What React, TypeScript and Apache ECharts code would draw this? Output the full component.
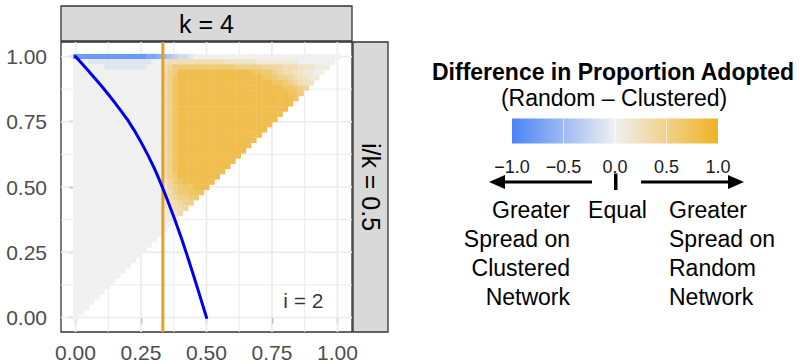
import React, { useEffect, useRef } from 'react';
import * as echarts from 'echarts';

const FONT = '"Liberation Sans", Arial, Helvetica, sans-serif';

// ---- Panel scales (ggplot-style 5% expansion around tiles) ----
const X_MIN = -0.0555;
const X_MAX = 1.0555;
const Y_MIN = -0.0555;
const Y_MAX = 1.0555;
const AXIS_TICKS = [0, 0.25, 0.5, 0.75, 1];
const MINOR_GRID = [0.125, 0.375, 0.625, 0.875];

// ---- Heatmap (difference Random - Clustered), cell size 0.02 ----
// Each row lists in-domain cells from x = 0 upwards; run-length tokens "<level><count>".
// Level chars: '0'..'9' => 0..0.9 (orange side), 'a'..'i' => -0.1..-0.9 (blue side)
const CELL = 0.02;
const HEAT_ROWS: string[] = [
  'h14 g2 f e d c b2 a 028', // y = 1.00
  '03 a12 02 2 311 26 18 07', // 0.98
  '06 a8 03 3 4 612 55 44 33 23 13', // 0.96
  '017 3 5 6 814 72 62 5 4 3 3 2 2 1 1 0 0', // 0.94
  '017 3 5 7 816 72 6 5 5 4 3 2 2 1 1', // 0.92
  '017 3 5 7 818 72 6 5 4 3 2 2', // 0.90
  '017 3 5 7 820 72 6 5 4', // 0.88
  '017 3 5 7 821 72 6', // 0.86
  '017 3 5 7 822 7', // 0.84
  '017 3 5 7 822', // 0.82
  '017 3 5 7 821', // 0.80
  '017 3 5 7 820', // 0.78
  '017 3 5 7 819', // 0.76
  '017 3 5 7 818', // 0.74
  '017 3 5 7 817', // 0.72
  '017 3 5 7 816', // 0.70
  '017 3 5 7 815', // 0.68
  '017 3 5 7 814', // 0.66
  '017 3 5 7 813', // 0.64
  '017 3 5 7 812', // 0.62
  '017 3 5 7 811', // 0.60
  '017 3 5 7 810', // 0.58
  '017 3 5 7 89', // 0.56
  '017 3 5 6 88', // 0.54
  '017 2 4 6 7 86', // 0.52
  '017 2 4 5 6 72 83', // 0.50
  '017 2 3 5 62 73', // 0.48
  '017 2 3 4 52 62', // 0.46
  '017 1 2 3 4 52', // 0.44
  '017 1 2 32 4', // 0.42
  '017 12 2 3', // 0.40
  '018 12', // 0.38
  '019', // 0.36
  '018', // 0.34
  '017', // 0.32
  '016', // 0.30
  '015', // 0.28
  '014', // 0.26
  '013', // 0.24
  '012', // 0.22
  '011', // 0.20
  '010', // 0.18
  '09', // 0.16
  '08', // 0.14
  '07', // 0.12
  '06', // 0.10
  '05', // 0.08
  '04', // 0.06
  '03', // 0.04
  '02', // 0.02
  '01', // 0.00
];

// ---- Threshold curve (blue) and vertical reference line (orange) ----
const CURVE_X = [0, 0.05, 0.1, 0.15, 0.2, 0.25, 0.3, 0.35, 0.4, 0.45, 0.5];
const CURVE_Y = [1, 0.944, 0.886, 0.823, 0.755, 0.672, 0.573, 0.452, 0.316, 0.163, 0];
const VLINE_X = 1 / 3;

// ---- Annotation ----
const ANNOT_TEXT = 'i = 2';
const ANNOT_POS = [0.87, 0.067];

// ---- Facet strips ----
const TOP_STRIP = 'k = 4';
const RIGHT_STRIP = 'i/k = 0.5';

// ---- Legend ----
const LEGEND_TITLE = 'Difference in Proportion Adopted';
const LEGEND_SUB = '(Random \u2013 Clustered)';
const LEGEND_TICKS = [-1, -0.5, 0, 0.5, 1];
const COLOR_STOPS = ['#4a84f6', '#f0f0f0', '#f0b225'];
const LEFT_LINES = ['Greater', 'Spread on', 'Clustered', 'Network'];
const MID_TEXT = 'Equal';
const RIGHT_LINES = ['Greater', 'Spread on', 'Random', 'Network'];

function levelValue(c: string): number {
  const code = c.charCodeAt(0);
  if (code >= 48 && code <= 57) return (code - 48) / 10;
  return -(code - 96) / 10;
}

function decodeRow(s: string): string[] {
  const out: string[] = [];
  s.split(' ').forEach((tok) => {
    const c = tok[0];
    const n = tok.length > 1 ? parseInt(tok.slice(1), 10) : 1;
    for (let k = 0; k < n; k++) out.push(c);
  });
  return out;
}

function buildHeat(): number[][] {
  const data: number[][] = [];
  const nRows = HEAT_ROWS.length;
  HEAT_ROWS.forEach((row, r) => {
    const y = Math.round((nRows - 1 - r) * CELL * 1000) / 1000;
    decodeRow(row).forEach((c, i) => {
      if (c === '.') return;
      const x = Math.round(i * CELL * 1000) / 1000;
      data.push([x, y, levelValue(c)]);
    });
  });
  return data;
}

export default function App() {
  const ref = useRef<HTMLDivElement>(null);

  useEffect(() => {
    if (!ref.current) return;
    const chart = echarts.init(ref.current, undefined, { renderer: 'svg' });

    const gridData = [
      ...AXIS_TICKS.map((v) => [v, 0.5, 1]),
      ...MINOR_GRID.map((v) => [v, 0.5, 0]),
    ];

    const txt = (text: string, x: number, y: number, font: string, align = 'center', extra: any = {}) => ({
      type: 'text', x, y, ...extra,
      style: {
        text, font, fill: '#000000', align, verticalAlign: 'middle',
        textAlign: align, textVerticalAlign: 'middle',
      },
    });

    const option: any = {
      animation: false,
      backgroundColor: '#ffffff',
      textStyle: { fontFamily: FONT },
      grid: [
        {
          left: 61, top: 42, width: 291, height: 290,
          show: true, borderColor: '#333333', borderWidth: 1.3, backgroundColor: '#ffffff',
        },
        { left: 512, top: 118.5, width: 206, height: 25, show: false },
      ],
      xAxis: [
        {
          type: 'value', gridIndex: 0, min: X_MIN, max: X_MAX,
          axisLine: { show: false },
          axisTick: { show: true, customValues: AXIS_TICKS, length: 6, lineStyle: { color: '#333333', width: 1.3 } },
          axisLabel: {
            show: true, customValues: AXIS_TICKS, formatter: (v: number) => v.toFixed(2),
            fontSize: 21, color: '#4d4d4d', margin: 10, fontFamily: FONT,
          },
          splitLine: { show: false },
        },
        {
          type: 'value', gridIndex: 1, min: -1, max: 1, interval: 0.5,
          axisLine: { show: false }, axisTick: { show: false }, splitLine: { show: false },
          axisLabel: {
            show: true, fontSize: 18, color: '#1a1a1a', margin: 14, fontFamily: FONT,
            showMinLabel: true, showMaxLabel: true,
            formatter: (v: number) => (v < 0 ? '\u2212' : '') + Math.abs(v).toFixed(1),
          },
        },
      ],
      yAxis: [
        {
          type: 'value', gridIndex: 0, min: Y_MIN, max: Y_MAX,
          axisLine: { show: false },
          axisTick: { show: true, customValues: AXIS_TICKS, length: 6, lineStyle: { color: '#333333', width: 1.3 } },
          axisLabel: {
            show: true, customValues: AXIS_TICKS, formatter: (v: number) => v.toFixed(2),
            fontSize: 21, color: '#4d4d4d', margin: 14, fontFamily: FONT,
          },
          splitLine: { show: false },
        },
        { type: 'value', gridIndex: 1, min: 0, max: 1, show: false },
      ],
      visualMap: {
        type: 'continuous', show: false, min: -1, max: 1, dimension: 2, seriesIndex: 1,
        inRange: { color: COLOR_STOPS },
      },
      series: [
        {
          type: 'custom', xAxisIndex: 0, yAxisIndex: 0, z: 1, silent: true,
          data: gridData,
          encode: { x: 0, y: 1 },
          renderItem: (_p: any, api: any) => {
            const v = api.value(0);
            const major = api.value(2) === 1;
            const a = api.coord([v, Y_MIN]);
            const b = api.coord([v, Y_MAX]);
            const c = api.coord([X_MIN, v]);
            const d = api.coord([X_MAX, v]);
            const st = { stroke: '#ebebeb', lineWidth: major ? 1.6 : 1.0 };
            return {
              type: 'group',
              children: [
                { type: 'line', shape: { x1: a[0], y1: a[1], x2: b[0], y2: b[1] }, style: st },
                { type: 'line', shape: { x1: c[0], y1: c[1], x2: d[0], y2: d[1] }, style: st },
              ],
            };
          },
        },
        {
          type: 'custom', xAxisIndex: 0, yAxisIndex: 0, z: 2, silent: true,
          data: buildHeat(),
          encode: { x: 0, y: 1 },
          renderItem: (_p: any, api: any) => {
            const x = api.value(0);
            const y = api.value(1);
            const p0 = api.coord([x - CELL / 2, y + CELL / 2]);
            const p1 = api.coord([x + CELL / 2, y - CELL / 2]);
            return {
              type: 'rect',
              shape: { x: p0[0], y: p0[1], width: p1[0] - p0[0] + 0.4, height: p1[1] - p0[1] + 0.4 },
              style: { fill: api.visual('color') },
            };
          },
        },
        {
          type: 'line', xAxisIndex: 0, yAxisIndex: 0, z: 3, silent: true,
          data: [[VLINE_X, Y_MIN], [VLINE_X, Y_MAX]],
          symbol: 'none',
          lineStyle: { color: '#e8a020', width: 3 },
        },
        {
          type: 'line', xAxisIndex: 0, yAxisIndex: 0, z: 4, silent: true,
          data: CURVE_X.map((x, i) => [x, CURVE_Y[i]]),
          symbol: 'none', smooth: 0.3,
          lineStyle: { color: '#0000ee', width: 3, cap: 'round' },
        },
        {
          type: 'scatter', xAxisIndex: 0, yAxisIndex: 0, z: 5, silent: true,
          data: [ANNOT_POS],
          symbolSize: 1,
          itemStyle: { color: 'rgba(0,0,0,0)' },
          label: {
            show: true, position: 'inside', formatter: ANNOT_TEXT,
            fontSize: 21, color: '#000000', fontFamily: FONT,
          },
        },
        {
          type: 'custom', xAxisIndex: 1, yAxisIndex: 1, z: 2, silent: true,
          data: [[-1, 0]],
          renderItem: (_p: any, api: any) => {
            const p0 = api.coord([-1, 1]);
            const p1 = api.coord([1, 0]);
            const children: any[] = [
              {
                type: 'rect',
                shape: { x: p0[0], y: p0[1], width: p1[0] - p0[0], height: p1[1] - p0[1] },
                style: {
                  fill: new echarts.graphic.LinearGradient(0, 0, 1, 0,
                    COLOR_STOPS.map((c, i) => ({ offset: i / (COLOR_STOPS.length - 1), color: c }))),
                },
              },
            ];
            LEGEND_TICKS.slice(1, -1).forEach((t) => {
              const a = api.coord([t, 1]);
              const b = api.coord([t, 0]);
              children.push({
                type: 'line', shape: { x1: a[0], y1: a[1], x2: b[0], y2: b[1] },
                style: { stroke: 'rgba(255,255,255,0.6)', lineWidth: 1 },
              });
            });
            return { type: 'group', children };
          },
        },
      ],
      graphic: [
        // facet strips
        { type: 'rect', shape: { x: 61, y: 6, width: 291, height: 35 }, style: { fill: '#d9d9d9', stroke: '#333333', lineWidth: 1.3 } },
        { type: 'rect', shape: { x: 353, y: 42, width: 35, height: 290 }, style: { fill: '#d9d9d9', stroke: '#333333', lineWidth: 1.3 } },
        txt(TOP_STRIP, 206.5, 24, `25px ${FONT}`),
        txt(RIGHT_STRIP, 371, 187, `25px ${FONT}`, 'center', { rotation: -Math.PI / 2 }),
        // legend titles
        txt(LEGEND_TITLE, 613, 72, `bold 23px ${FONT}`),
        txt(LEGEND_SUB, 614, 98, `23px ${FONT}`),
        // arrows
        { type: 'line', shape: { x1: 592, y1: 182, x2: 500, y2: 182 }, style: { stroke: '#000000', lineWidth: 3 } },
        { type: 'polygon', shape: { points: [[489, 182], [505, 175], [505, 189]] }, style: { fill: '#000000' } },
        { type: 'line', shape: { x1: 641, y1: 182, x2: 733, y2: 182 }, style: { stroke: '#000000', lineWidth: 3 } },
        { type: 'polygon', shape: { points: [[744, 182], [728, 175], [728, 189]] }, style: { fill: '#000000' } },
        { type: 'rect', shape: { x: 614, y: 173.5, width: 3.5, height: 16.5 }, style: { fill: '#000000' } },
        txt(MID_TEXT, 617.5, 210, `23px ${FONT}`),
        ...LEFT_LINES.map((t, i) => txt(t, 570, 210 + i * 29, `23px ${FONT}`, 'right')),
        ...RIGHT_LINES.map((t, i) => txt(t, 669, 210 + i * 29, `23px ${FONT}`, 'left')),
      ],
    };

    chart.setOption(option);
    return () => chart.dispose();
  }, []);

  return (
    <div
      ref={ref}
      style={{ position: 'fixed', left: 0, top: 0, width: 800, height: 364, background: '#ffffff' }}
    />
  );
}
